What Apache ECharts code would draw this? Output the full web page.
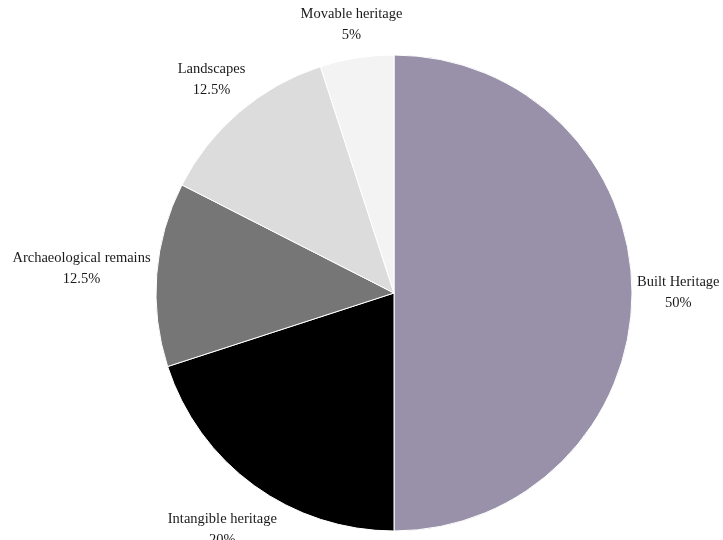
<!DOCTYPE html>
<html>
<head>
<meta charset="utf-8">
<script src="https://cdn.jsdelivr.net/npm/echarts@6/dist/echarts.min.js"></script>
<style>
  html, body { margin: 0; padding: 0; background: #ffffff; }
  #chart { width: 723px; height: 540px; }
</style>
</head>
<body>
<div id="chart"></div>
<script>
// Share of heritage categories (percent), clockwise from 12 o'clock
const categories = ['Built Heritage', 'Intangible heritage', 'Archaeological remains', 'Landscapes', 'Movable heritage'];
const shares = [50, 20, 12.5, 12.5, 5];
const colors = ['#9891a9', '#000000', '#767676', '#dcdcdc', '#f3f3f3'];

const CENTER = [394, 293];
const RADIUS = 238;
const LABEL_GAP = 5;

const total = shares.reduce((a, b) => a + b, 0);
// mid-angle of each slice, measured clockwise from the top
const midAngles = [];
let acc = 0;
shares.forEach(v => {
  midAngles.push(((acc + v / 2) / total) * 2 * Math.PI);
  acc += v;
});

const chart = echarts.init(document.getElementById('chart'));
chart.setOption({
  animation: false,
  series: [{
    type: 'pie',
    center: CENTER,
    radius: RADIUS,
    startAngle: 90,
    clockwise: true,
    data: categories.map((name, i) => ({
      name: name,
      value: shares[i],
      itemStyle: { color: colors[i] }
    })),
    itemStyle: { borderColor: '#ffffff', borderWidth: 1 },
    label: {
      show: true,
      position: 'outside',
      alignTo: 'none',
      overflow: 'none',
      formatter: '{b}\n{c}%',
      fontFamily: 'Liberation Serif',
      fontSize: 14.5,
      lineHeight: 21,
      color: '#1a1a1a',
      align: 'center'
    },
    labelLine: { show: false },
    emphasis: { disabled: true },
    // push each label box outward along its slice's mid-angle until it clears the rim
    labelLayout: function (params) {
      const a = midAngles[params.dataIndex];
      const s = Math.sin(a), c = -Math.cos(a);
      const w = params.labelRect.width, h = params.labelRect.height;
      const extent = Math.abs(s) * w / 2 + Math.abs(c) * h / 2;
      const d = RADIUS + LABEL_GAP + extent;
      return {
        x: CENTER[0] + s * d,
        y: CENTER[1] + c * d,
        align: 'center',
        verticalAlign: 'middle'
      };
    }
  }]
});
</script>
</body>
</html>
